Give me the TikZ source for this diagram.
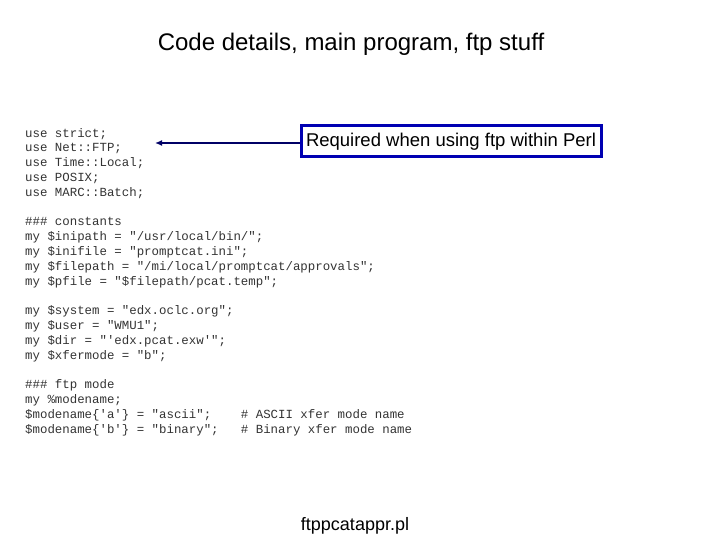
\documentclass[tikz,border=0pt]{standalone}
\usepackage{fontspec}
\setmainfont{Liberation Sans}
\setmonofont{Liberation Mono}
\usetikzlibrary{arrows.meta}
\begin{document}
\begin{tikzpicture}[x=1pt,y=-1pt,
  code/.style={anchor=north west,inner sep=0pt,align=left,font=\ttfamily\fontsize{12.4}{14.8}\selectfont,text=black!80},
  note/.style={draw=blue!70!black,line width=3pt,inner sep=4pt,font=\fontsize{18.5}{20}\selectfont,minimum width=300pt,minimum height=31pt},
  conn/.style={draw=blue!40!black,line width=1.3pt,-{Latex[length=7pt,width=6pt]}}]
\useasboundingbox (0,0) rectangle (720,540);
\node[font=\fontsize{24}{28}\selectfont] (title) at (351,44) {Code details, main program, ftp stuff};
\node[code] (src) at (25,128) {use strict;\\
use Net::FTP;\\
use Time::Local;\\
use POSIX;\\
use MARC::Batch;\\[14.8pt]
\#\#\# constants\\
my \$inipath = "/usr/local/bin/";\\
my \$inifile = "promptcat.ini";\\
my \$filepath = "/mi/local/promptcat/approvals";\\
my \$pfile = "\$filepath/pcat.temp";\\[14.8pt]
my \$system = "edx.oclc.org";\\
my \$user = "WMU1";\\
my \$dir = "'edx.pcat.exw'";\\
my \$xfermode = "b";\\[14.8pt]
\#\#\# ftp mode\\
my \%modename;\\
\$modename\{'a'\} = "ascii";~~~~\# ASCII xfer mode name\\
\$modename\{'b'\} = "binary";~~~\# Binary xfer mode name};
\node[note] (req) at (451,141.5) {Required when using ftp within Perl};
\coordinate (tip) at (155,143);
\draw[conn] (req.west |- tip) -- (tip);
\node[font=\fontsize{18}{22}\selectfont] (file) at (355,526) {ftppcatappr.pl};
\end{tikzpicture}
\end{document}
